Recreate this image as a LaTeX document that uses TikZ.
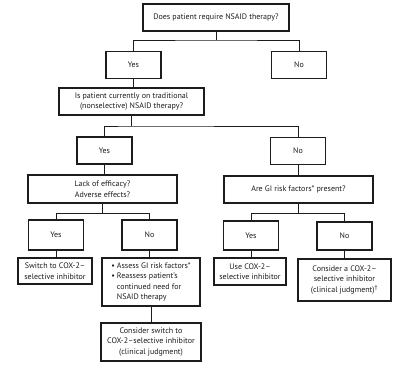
\documentclass[tikz,border=0pt]{standalone}
\usepackage{fontspec}
\setmainfont{PT Sans}
\usepackage{tikz}
\usetikzlibrary{calc,positioning}
\definecolor{flowInk}{RGB}{28,28,28}

\begin{document}
\begin{tikzpicture}[x=1pt, y=-1pt,
  box/.style={draw=flowInk, line width=1.1pt, align=center, inner sep=2pt,
    text=flowInk, font=\fontsize{8}{10.5}\selectfont},
  ans/.style={box, minimum width=55pt, minimum height=27pt},
  link/.style={draw=flowInk, line width=0.9pt}]
\useasboundingbox (0,0) rectangle (400,365);

\node[box, minimum width=146pt, minimum height=27pt] (need) at (216,17.5) {Does patient require NSAID therapy?};
\node[ans] (needYes) at (133.5,65) {Yes};
\node[ans] (needNo) at (299,65) {No};

\node[box, minimum width=145pt, minimum height=27pt] (onNsaid) at (131.5,101.5) {Is patient currently on traditional\\(nonselective) NSAID therapy?};
\node[ans] (onYes) at (104.5,150.5) {Yes};
\node[ans] (onNo) at (298,151) {No};

\node[box, minimum width=149pt, minimum height=28pt] (lack) at (102.5,189) {Lack of efficacy?\\Adverse effects?};
\node[box, minimum width=149pt, minimum height=27pt] (risk) at (298.5,189.5) {Are GI risk factors* present?};

\node[ans, minimum height=30pt] (lackYes) at (56,235) {Yes};
\node[ans, minimum height=30pt] (lackNo) at (149.5,235) {No};
\node[ans, minimum height=29pt] (riskYes) at (251,235.5) {Yes};
\node[ans, minimum height=28pt] (riskNo) at (344.5,236) {No};

\node[box, minimum width=74pt, minimum height=26pt] (switch) at (55,271) {Switch to COX-2--\\selective inhibitor};
\node[box, minimum width=98pt, minimum height=48pt, align=left] (assess) at (151,282)
  {\begin{tabular}{@{}l@{\hspace{2pt}}l@{}}
   \textbullet & Assess GI risk factors*\\
   \textbullet & Reassess patient's\\
   & continued need for\\
   & NSAID therapy
   \end{tabular}};
\node[box, minimum width=72pt, minimum height=27pt] (useCox) at (250,271.5) {Use COX-2--\\selective inhibitor};
\node[box, minimum width=93pt, minimum height=42pt] (considerCox) at (344.5,280) {Consider a COX-2--\\selective inhibitor\\(clinical judgment)\textsuperscript{\textdagger}};
\node[box, minimum width=100pt, minimum height=38pt] (considerSwitch) at (151,342) {Consider switch to\\COX-2--selective inhibitor\\(clinical judgment)};

\coordinate (jNeed) at (216,40);
\coordinate (jOn) at (131.5,126);
\coordinate (jLack) at (102.5,213.5);
\coordinate (jRisk) at (298.5,213.5);

\draw[link] (need.south) -- (jNeed);
\draw[link] (needYes.north) |- (jNeed) -| (needNo.north);
\draw[link] (needYes.south) -- (needYes.south |- onNsaid.north);

\draw[link] (onNsaid.south) -- (jOn);
\draw[link] (onYes.north) |- (jOn) -| (onNo.north);
\draw[link] (onYes.south) -- (onYes.south |- lack.north);
\draw[link] (onNo.south) -- (onNo.south |- risk.north);

\draw[link] (lack.south) -- (jLack);
\draw[link] (lackYes.north) |- (jLack) -| (lackNo.north);
\draw[link] (risk.south) -- (jRisk);
\draw[link] (riskYes.north) |- (jRisk) -| (riskNo.north);

\draw[link] (lackYes.south) -- (lackYes.south |- switch.north);
\draw[link] (lackNo.south) -- (lackNo.south |- assess.north);
\draw[link] (assess.south) -- (assess.south |- considerSwitch.north);
\draw[link] (riskYes.south) -- (riskYes.south |- useCox.north);
\draw[link] (riskNo.south) -- (riskNo.south |- considerCox.north);
\end{tikzpicture}
\end{document}
